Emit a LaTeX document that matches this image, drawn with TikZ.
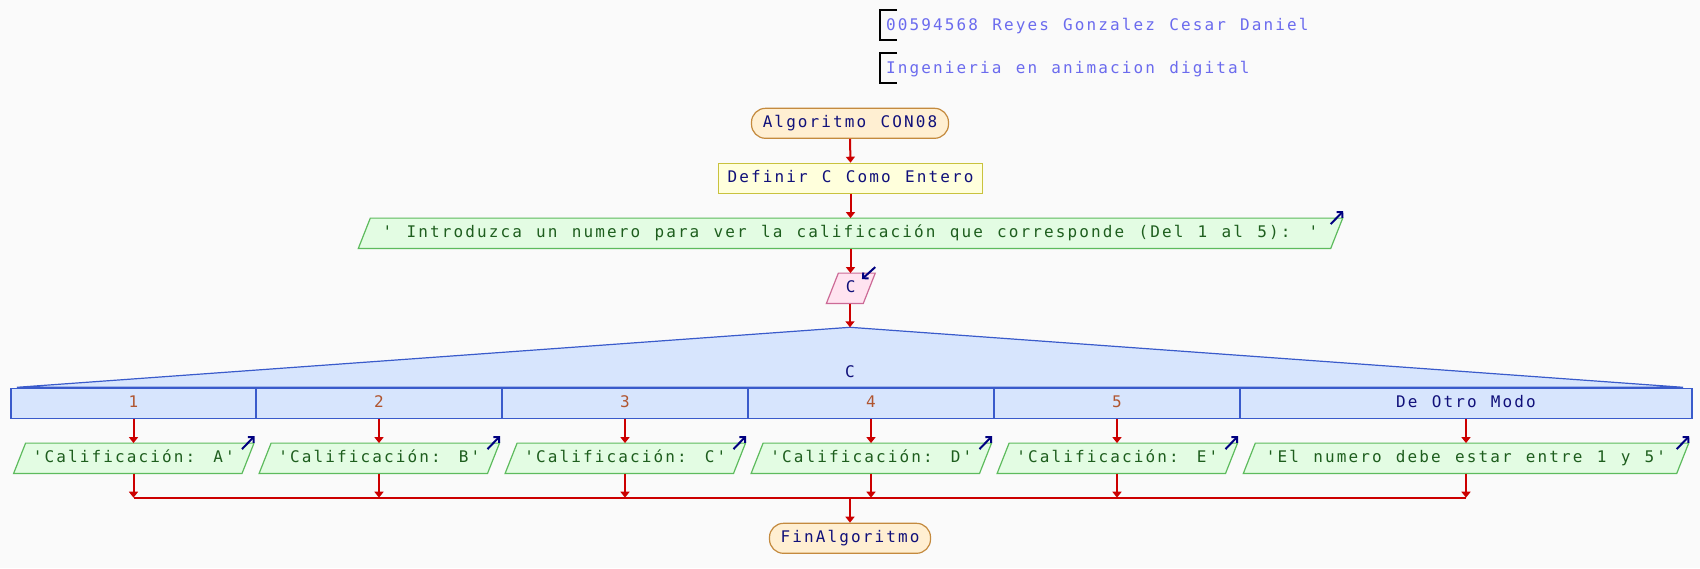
\documentclass[tikz,border=0pt]{standalone}
\usepackage{fontspec}
\newfontfamily\monofam[LetterSpace=13.2,WordSpace=1.216]{DejaVu Sans Mono}
\usetikzlibrary{arrows.meta,calc,backgrounds}
\definecolor{bgc}{HTML}{FAFAFA}
\definecolor{hdr}{HTML}{6B6BEE}
\definecolor{navy}{HTML}{10107A}
\definecolor{outtext}{HTML}{1E5E1E}
\definecolor{casetext}{HTML}{B0552F}
\definecolor{termF}{HTML}{FFEFD2}
\definecolor{termD}{HTML}{C48A3E}
\definecolor{defF}{HTML}{FFFFDC}
\definecolor{defD}{HTML}{C9C23E}
\definecolor{outF}{HTML}{E3FCE3}
\definecolor{outD}{HTML}{5DBB5D}
\definecolor{inF}{HTML}{FFE3F0}
\definecolor{inD}{HTML}{CC6A96}
\definecolor{swF}{HTML}{D7E5FD}
\definecolor{swD}{HTML}{3A5BCB}
\definecolor{flowred}{HTML}{CC0000}
\definecolor{iconc}{HTML}{000080}
\newcommand\paragram[3]{\filldraw[fill=#2, draw=#3, line width=1.2pt]
  ($(#1.north west)+(6,0)$) -- ($(#1.north east)+(6,0)$) --
  ($(#1.south east)+(-6,0)$) -- ($(#1.south west)+(-6,0)$) -- cycle;}
\begin{document}
\begin{tikzpicture}[x=1pt,y=-1pt,
  every node/.style={font=\monofam\fontsize{16}{19}\selectfont, inner sep=0pt, text height=11pt, text depth=2pt},
  term/.style={draw=termD, fill=termF, line width=1.2pt, rounded corners=14pt, minimum height=30pt, text=navy},
  procbox/.style={draw=defD, fill=defF, line width=1.2pt, minimum height=30pt, text=navy},
  parabase/.style={minimum height=30pt},
  outbox/.style={parabase, minimum width=228pt, text=outtext},
  cell/.style={draw=swD, fill=swF, line width=1.2pt, minimum height=30pt, text=casetext},
  flow/.style={draw=flowred, line width=2pt, -{Triangle[length=6pt,width=9pt]}},
  flowline/.style={draw=flowred, line width=2pt},
  icon/.style={draw=iconc, line width=2pt, -{Straight Barb[length=4pt,width=8pt]}},
  brk/.style={draw=black, line width=1.3pt},
  hdrtext/.style={anchor=base west, text=hdr, text height=, text depth=}
]
\useasboundingbox (0,0) rectangle (1700,568);

% header
\draw[brk] (897,10) -- (880,10) -- (880,40) -- (897,40);
\draw[brk] (897,53) -- (880,53) -- (880,83) -- (897,83);
\node[hdrtext] (h1) at (886,30) {00594568 Reyes Gonzalez Cesar Daniel};
\node[hdrtext] (h2) at (886,73.3) {Ingenieria en animacion digital};

% main flow
\node[term, minimum width=197pt] (start) at (850,123.3) {Algoritmo CON08};
\node[procbox, minimum width=264pt] (def) at (850.5,178.3) {Definir C Como Entero};
\node[parabase, minimum width=972pt, text=outtext] (out) at (850.5,233.3) {' Introduzca un numero para ver la calificación que corresponde (Del 1 al 5): '};
\node[parabase, minimum width=36.5pt, text=navy] (in) at (850.8,288.3) {C};
\coordinate (apex) at (850,327.3);

% switch
\filldraw[fill=swF, draw=swD, line width=1.2pt] (17,387.3) -- (apex) -- (1683,387.3) -- cycle;
\node[text=navy] (sw) at (850,373) {C};
\node[cell, minimum width=245pt] (c1) at (133.5,403.3) {1};
\node[cell, minimum width=246pt] (c2) at (379,403.3) {2};
\node[cell, minimum width=246pt] (c3) at (625,403.3) {3};
\node[cell, minimum width=246pt] (c4) at (871,403.3) {4};
\node[cell, minimum width=246pt] (c5) at (1117,403.3) {5};
\node[cell, minimum width=452pt, text=navy] (c6) at (1466,403.3) {De Otro Modo};

% case outputs
\node[outbox] (o1) at (133.8,458.3) {'Calificación: A'};
\node[outbox] (o2) at (379.3,458.3) {'Calificación: B'};
\node[outbox] (o3) at (625.3,458.3) {'Calificación: C'};
\node[outbox] (o4) at (871.3,458.3) {'Calificación: D'};
\node[outbox] (o5) at (1117.3,458.3) {'Calificación: E'};
\node[outbox, minimum width=433pt] (o6) at (1466,458.3) {'El numero debe estar entre 1 y 5'};

\node[term, minimum width=161pt] (fin) at (850,538.3) {FinAlgoritmo};

% parallelogram outlines on background
\begin{scope}[on background layer]
  \fill[bgc] (0,0) rectangle (1700,568);
  \paragram{out}{outF}{outD}
  \paragram{in}{inF}{inD}
  \paragram{o1}{outF}{outD}
  \paragram{o2}{outF}{outD}
  \paragram{o3}{outF}{outD}
  \paragram{o4}{outF}{outD}
  \paragram{o5}{outF}{outD}
  \paragram{o6}{outF}{outD}
\end{scope}

% icons
\draw[icon] ($(out.north east)+(-6,6)$) -- ($(out.north east)+(6.5,-7)$);
\draw[icon] ($(in.north east)+(6,-6)$) -- ($(in.north east)+(-7.3,6)$);
\foreach \n in {o1,o2,o3,o4,o5,o6}
  \draw[icon] ($(\n.north east)+(-6,6)$) -- ($(\n.north east)+(6.5,-7)$);

% connectors
\draw[flow] (start.south) -- (def.north);
\draw[flow] (def.south) -- (out.north);
\draw[flow] (out.south) -- (in.north -| out.south);
\draw[flow] (in.south -| apex) -- (apex);

\coordinate (j1) at (133.5,497.7);
\coordinate (j2) at (379,497.7);
\coordinate (j3) at (625,497.7);
\coordinate (j4) at (871,497.7);
\coordinate (j5) at (1117,497.7);
\coordinate (j6) at (1466,497.7);
\coordinate (jc) at (850,497.7);

\foreach \i in {1,...,6} {
  \draw[flow] (c\i.south) -- (c\i.south |- o\i.north);
  \draw[flow] (o\i.south -| c\i.south) -- (j\i);
}
\draw[flowline] (j1) -- (j6);
\draw[flow] (jc) -- (fin.north);
\end{tikzpicture}
\end{document}
